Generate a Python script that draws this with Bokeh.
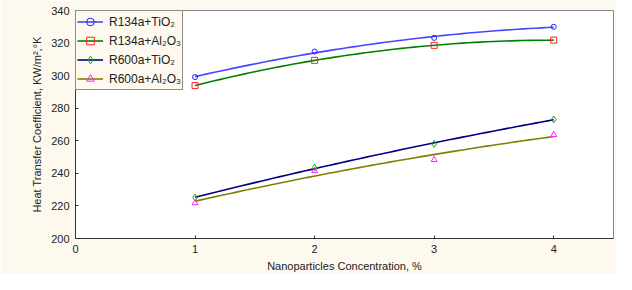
import numpy as np
from bokeh.plotting import figure
from bokeh.models import Range1d, FixedTicker, Legend, LegendItem
from bokeh.embed import file_html
from bokeh.resources import INLINE

conc = [1, 2, 3, 4]
r134a_tio2 = [299.1, 314.8, 323.2, 330.0]
r134a_al2o3 = [293.9, 309.4, 318.6, 321.8]
r600a_tio2 = [225.1, 243.5, 258.1, 273.1]
r600a_al2o3 = [221.8, 241.6, 248.3, 263.7]

names = ["R134a+TiO₂", "R134a+Al₂O₃", "R600a+TiO₂", "R600a+Al₂O₃"]
series = [r134a_tio2, r134a_al2o3, r600a_tio2, r600a_al2o3]
line_colors = ["#4646ff", "#008000", "#000080", "#808000"]
marker_colors = ["#2020ff", "#ff2020", "#22a022", "#ff20ff"]
markers = ["circle", "square", "diamond", "triangle"]
marker_sizes = [5, 6, 7, 6]

x_ticks = [0, 1, 2, 3, 4]
y_ticks = [200, 220, 240, 260, 280, 300, 320, 340]

CREAM = "#fdf9ee"
FONT = "Liberation Sans"

p = figure(width=616, height=274, output_backend="svg", toolbar_location=None,
           x_range=Range1d(0, 4.5), y_range=Range1d(200, 340),
           min_border_left=75, min_border_top=10, min_border_right=3, min_border_bottom=31)
p.border_fill_color = CREAM
p.background_fill_color = "white"
p.outline_line_color = "#8a8a8a"
p.outline_line_width = 1
p.grid.visible = False

for ax in (p.xaxis[0], p.yaxis[0]):
    ax.axis_line_color = "#333333"
    ax.major_tick_in = 3
    ax.major_tick_out = 0
    ax.major_tick_line_color = "#333333"
    ax.minor_tick_line_color = None
    ax.major_label_text_font = FONT
    ax.major_label_text_font_size = "11px"
    ax.major_label_text_color = "#222222"
    ax.axis_label_text_font = FONT
    ax.axis_label_text_font_size = "11px"
    ax.axis_label_text_font_style = "normal"
    ax.axis_label_text_color = "#222222"

p.xaxis.ticker = FixedTicker(ticks=x_ticks)
p.yaxis.ticker = FixedTicker(ticks=y_ticks)
p.xaxis.major_label_standoff = 6
p.yaxis.major_label_standoff = 6
p.xaxis.axis_label = "Nanoparticles Concentration, %"
p.yaxis.axis_label = "Heat Transfer Coefficient, KW/m²,°K"
p.xaxis.axis_label_standoff = 4
p.yaxis.axis_label_standoff = 5

xs = np.linspace(conc[0], conc[-1], 60)
items = []
for name, ys, lc, mc, mk, ms in zip(names, series, line_colors, marker_colors, markers, marker_sizes):
    coef = np.polyfit(conc, ys, 2)
    lr = p.line(xs, np.polyval(coef, xs), line_color=lc, line_width=1.6)
    sr = p.scatter(conc, ys, marker=mk, size=ms, line_color=mc, fill_color=None, line_width=1)
    items.append(LegendItem(label=name, renderers=[lr, sr]))

legend = Legend(items=items, location="top_left")
legend.margin = 0
legend.padding = 1
legend.spacing = 0
legend.glyph_width = 26
legend.glyph_height = 19
legend.label_height = 19
legend.label_standoff = 6
legend.label_text_font = FONT
legend.label_text_font_size = "12px"
legend.label_text_color = "#222222"
legend.border_line_color = "#222222"
legend.border_line_width = 1
legend.background_fill_color = CREAM
legend.background_fill_alpha = 1
p.add_layout(legend)

open("out.html", "w").write(file_html(p, INLINE))
